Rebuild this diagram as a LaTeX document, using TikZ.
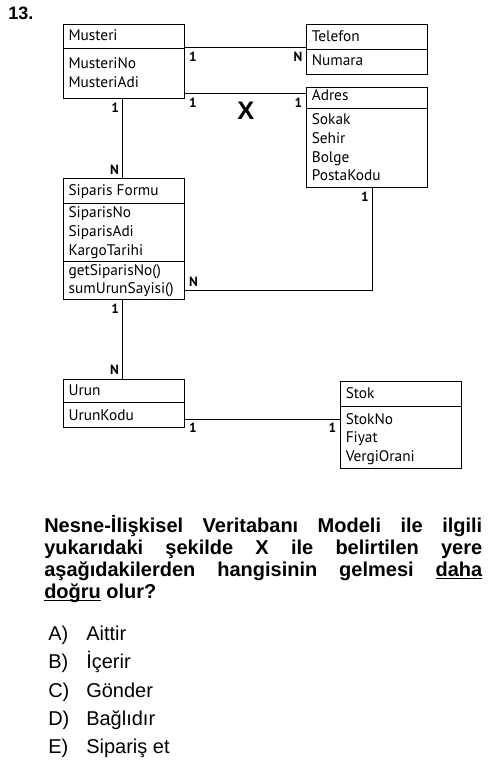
\documentclass[tikz,border=0pt]{standalone}
\usepackage{fontspec}
\setmainfont{Liberation Sans}
\newfontfamily\boxfont{PT Sans}
\usepackage{tikz}
\usetikzlibrary{positioning}
\setlength{\arrayrulewidth}{0.9pt}
\newcommand{\headstrut}[1][18pt]{\rule[-5.25pt]{0pt}{#1}}
\newcommand{\firststrut}[1][12pt]{\rule{0pt}{#1}}
\newcommand{\laststrut}[1][5.5pt]{\rule[-#1]{0pt}{#1}}
\newcommand{\qunder}[1]{\setbox0\hbox{#1}\rlap{\rule[-2.6pt]{\wd0}{1.1pt}}\box0{}}
\tikzstyle{rel} = [line width=0.9pt]
\tikzstyle{card} = [font=\boxfont\bfseries\fontsize{10}{12}\selectfont, inner sep=2.5pt]
\tikzstyle{answer} = [anchor=base west, inner sep=0pt, font=\fontsize{15}{18}\selectfont]

\begin{document}
\begin{tikzpicture}[x=0.75pt, y=-0.75pt,
			struct/.style={
					rectangle,
					draw=black,
					line width=0.9pt,
					inner sep=0pt,
					font=\boxfont\fontsize{11.5}{14}\selectfont,
				}
		]
		\useasboundingbox (0,0) rectangle (500,767);

		% question number
		\node[anchor=base west, inner sep=0pt, font=\bfseries\fontsize{13.5}{16}\selectfont] (qno) at (8,20) {13.};

		% Musteri
		\node[struct, anchor=north west] (musteri) at (63,24) {
			\begin{tabular}{@{\hspace{3.75pt}}p{87pt}@{}}
				\headstrut[17.5pt]Musteri               \\ \hline
				\firststrut[14.5pt]MusteriNo            \\
				MusteriAdi\laststrut[8.5pt]             \\
			\end{tabular}
		};

		% Telefon
		\node[struct, right=90.75pt of musteri.north east, anchor=north west] (telefon) {
			\begin{tabular}{@{\hspace{3.75pt}}p{87pt}@{}}
				\headstrut Telefon                      \\ \hline
				\firststrut[12pt]Numara\laststrut[6.5pt] \\
			\end{tabular}
		};

		% Adres
		\node[struct, below=9pt of telefon.south west, anchor=north west] (adres) {
			\begin{tabular}{@{\hspace{3.75pt}}p{87pt}@{}}
				\headstrut[15pt]Adres                   \\ \hline
				\firststrut Sokak                       \\
				Sehir                                   \\
				Bolge                                   \\
				PostaKodu\laststrut[5pt]                \\
			\end{tabular}
		};

		% Siparis Formu
		\node[struct, below=59.25pt of musteri.south west, anchor=north west] (siparis) {
			\begin{tabular}{@{\hspace{3.75pt}}p{87pt}@{}}
				\headstrut Siparis Formu                \\ \hline
				\firststrut[10.5pt]SiparisNo            \\
				SiparisAdi                              \\
				KargoTarihi                             \\ \hline
				getSiparisNo()                          \\
				sumUrunSayisi()                         \\
			\end{tabular}
		};

		% Urun
		\node[struct, below=59.25pt of siparis.south west, anchor=north west] (urun) {
			\begin{tabular}{@{\hspace{3.75pt}}p{87pt}@{}}
				\headstrut[17pt]Urun                    \\ \hline
				\firststrut[12.5pt]UrunKodu\laststrut   \\
			\end{tabular}
		};

		% Stok
		\node[struct, right=116.25pt of urun.north east, anchor=north west, yshift=-1.5pt] (stok) {
			\begin{tabular}{@{\hspace{3.75pt}}p{87pt}@{}}
				\headstrut Stok                         \\ \hline
				\firststrut[13pt]StokNo                 \\
				Fiyat                                   \\
				VergiOrani\laststrut                    \\
			\end{tabular}
		};

		% Connections
		\draw[rel] ([yshift=-17.9pt]musteri.north east) -- node[card, pos=0, below right]{1} node[card, pos=1, below left]{N} ([yshift=-17.9pt]musteri.north east -| telefon.west);
		\draw[rel] ([yshift=-5pt]adres.north west -| musteri.east) -- node[card, pos=0, below right]{1} node[midway, below, inner sep=5.5pt, font=\bfseries\fontsize{19}{22}\selectfont]{X} node[card, pos=1, below left]{1} ([yshift=-5pt]adres.north west);
		\draw[rel] ([xshift=-1pt]musteri.south) -- node[card, pos=0, below left]{1} node[card, pos=1, above left]{N} ([xshift=-1pt]siparis.north);
		\draw[rel] ([yshift=7pt]siparis.south east) -| node[card, pos=0, above right]{N} node[card, pos=1, below left]{1} ([xshift=4pt]adres.south);
		\draw[rel] ([xshift=-1pt]siparis.south) -- node[card, pos=0, below left]{1} node[card, pos=1, above left]{N} ([xshift=-1pt]urun.north);
		\draw[rel] ([yshift=6.6pt]urun.south east) -- node[card, pos=0, below right]{1} node[card, pos=1, below left]{1} ([yshift=6.6pt]urun.south east -| stok.west);

		% Question
		\node[anchor=base west, text width=328.5pt, align=justify, inner sep=0pt, font=\bfseries\fontsize{15}{16.5}\selectfont] (question) at (44,532) {Nesne-İlişkisel Veritabanı Modeli ile ilgili\linebreak yukarıdaki şekilde X ile belirtilen yere\linebreak aşağıdakilerden hangisinin gelmesi \qunder{daha}\linebreak \qunder{doğru} olur?};

		% Options
		\node[answer] (optA) at (48,640) {A)};
		\node[answer] (ansA) at (86,640) {Aittir};
		\node[answer] (optB) at (48,668) {B)};
		\node[answer] (ansB) at (86,668) {İçerir};
		\node[answer] (optC) at (48,697) {C)};
		\node[answer] (ansC) at (86,697) {Gönder};
		\node[answer] (optD) at (48,725) {D)};
		\node[answer] (ansD) at (86,725) {Bağlıdır};
		\node[answer] (optE) at (48,753) {E)};
		\node[answer] (ansE) at (86,753) {Sipariş et};
	\end{tikzpicture}
\end{document}
